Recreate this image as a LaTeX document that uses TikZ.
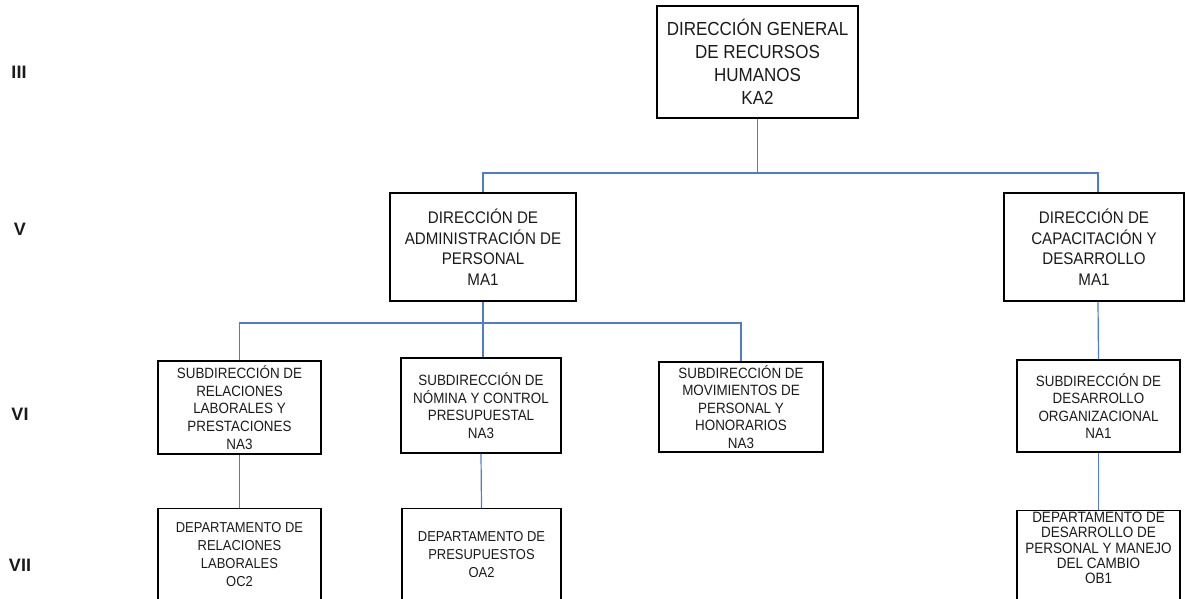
\documentclass[tikz,border=0pt]{standalone}
\usepackage{fontspec}
\setmainfont{Liberation Sans}[FakeStretch=0.9]
\newfontfamily\lvlfont{Liberation Sans}
\definecolor{linkblue}{HTML}{4F7EC6}
\definecolor{txt}{HTML}{1A1A1A}
\begin{document}
\begin{tikzpicture}[x=1pt,y=-1pt,
  box/.style={draw=black, line width=1.15pt, inner sep=0pt, align=center, text=txt},
  label/.style={inner sep=0pt, align=center, text=txt},
  link/.style={draw=linkblue, line width=1.2pt},
  lvl/.style={inner sep=0pt, font=\lvlfont\bfseries\fontsize{18}{20}\selectfont, text=txt}]
\useasboundingbox (0,0) rectangle (1186,598);
\clip (0,0) rectangle (1186,598);
% level labels
\node[lvl] (l3) at (19,72) {III};
\node[lvl] (l5) at (20,229) {V};
\node[lvl] (l6) at (20,414) {VI};
\node[lvl] (l7) at (20,565) {VII};
% top
\node[box, minimum width=201pt, minimum height=112pt,
  font=\fontsize{18.9}{23}\selectfont] (top) at (757.5,62)
  {DIRECCIÓN GENERAL\\DE RECURSOS\\HUMANOS\\KA2};
% level V
\node[box, minimum width=186pt, minimum height=108pt,
  font=\fontsize{16.8}{20.5}\selectfont] (da) at (483,247)
  {DIRECCIÓN DE\\ADMINISTRACIÓN DE\\PERSONAL\\MA1};
\node[box, minimum width=180pt, minimum height=108pt,
  font=\fontsize{16.8}{20.5}\selectfont] (dc) at (1094,247)
  {DIRECCIÓN DE\\CAPACITACIÓN Y\\DESARROLLO\\MA1};
% level VI
\tikzset{sub/.style={box, font=\fontsize{14.9}{17.6}\selectfont}}
\node[sub, minimum width=163pt, minimum height=93pt] (sr) at (239.5,407.5)
  {SUBDIRECCIÓN DE\\RELACIONES\\LABORALES Y\\PRESTACIONES\\NA3};
\node[sub, minimum width=160pt, minimum height=95pt] (sn) at (481,405.5)
  {SUBDIRECCIÓN DE\\NÓMINA Y CONTROL\\PRESUPUESTAL\\NA3};
\node[sub, minimum width=164pt, minimum height=90pt] (sm) at (741,407)
  {SUBDIRECCIÓN DE\\MOVIMIENTOS DE\\PERSONAL Y\\HONORARIOS\\NA3};
\node[sub, minimum width=163pt, minimum height=92pt] (sd) at (1098.5,406)
  {SUBDIRECCIÓN DE\\DESARROLLO\\ORGANIZACIONAL\\NA1};
% level VII
\node[box, anchor=north, minimum width=163pt, minimum height=110pt] (dr) at (239.5,508) {};
\node[box, anchor=north, minimum width=159pt, minimum height=110pt] (dp) at (481.5,508) {};
\node[box, anchor=north, minimum width=163pt, minimum height=110pt] (dd) at (1098.5,510) {};
\node[label, font=\fontsize{14.4}{18}\selectfont] (drt) at (239.5,554.5)
  {DEPARTAMENTO DE\\RELACIONES\\LABORALES\\OC2};
\node[label, font=\fontsize{14.4}{18}\selectfont] (dpt) at (481.5,555)
  {DEPARTAMENTO DE\\PRESUPUESTOS\\OA2};
\node[label, font=\fontsize{15}{15.2}\selectfont] (ddt) at (1098.5,548)
  {DEPARTAMENTO DE\\DESARROLLO DE\\PERSONAL Y MANEJO\\DEL CAMBIO\\OB1};
% connectors
\coordinate (b1) at (0,173);
\coordinate (b2) at (0,323);
\coordinate (cx) at (1098,0);
\draw[link] (top.south) -- (top.south |- b1);
\draw[link] (da.north) -- (da.north |- b1) -- (cx |- b1) -- (cx |- dc.north);
\draw[link] (da.south) -- (da.south |- sn.north);
\draw[link] (sr.north) -- (sr.north |- b2) -- (sm.north |- b2) -- (sm.north);
\draw[link] (cx |- dc.south) -- (sd.north);
\draw[link] (sr.south) -- (dr.north);
\draw[link] (sn.south) -- (dp.north);
\draw[link] (sd.south) -- (dd.north);
\end{tikzpicture}
\end{document}
